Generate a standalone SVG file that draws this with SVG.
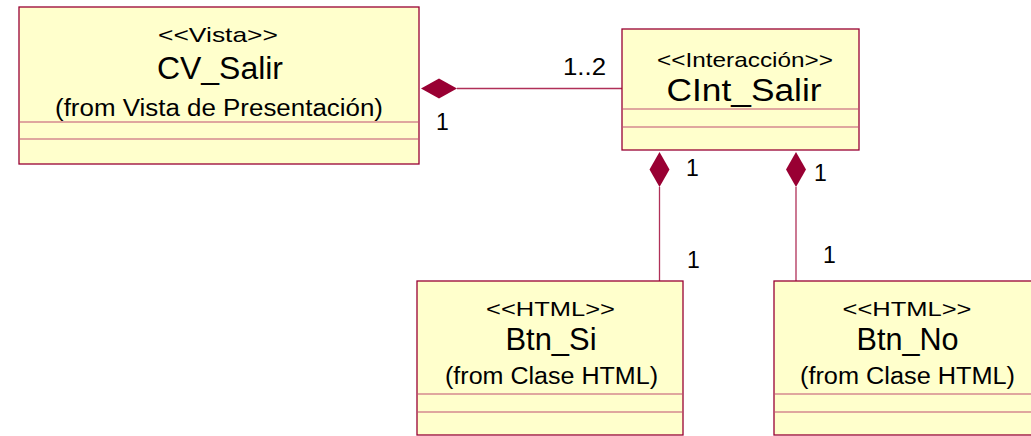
<svg xmlns="http://www.w3.org/2000/svg" width="1031" height="436" viewBox="0 0 1031 436">
<style>
.box{fill:#ffffcc;stroke:#990033;stroke-width:1.3}
.sep{stroke:#c05070;stroke-width:1.2}
.conn{stroke:#b03058;stroke-width:1.3;fill:none}
.dia{fill:#990033;stroke:none}
text{font-family:"Liberation Sans",Arial,sans-serif;fill:#000;text-anchor:middle}
.st{font-size:21px}
.nm{font-size:31px}
.fr{font-size:23.5px}
.lb{font-size:23px;text-anchor:start}
</style>
<rect width="1031" height="436" fill="#ffffff"/>
<g id="connectors">
<line class="conn" x1="457" y1="88.5" x2="622" y2="88.5"/>
<polygon class="dia" points="421,88.5 439,78.5 457,88.5 439,98.5"/>
<line class="conn" x1="659.5" y1="187" x2="659.5" y2="281"/>
<polygon class="dia" points="659.5,152 669.5,169.5 659.5,187 649.5,169.5"/>
<line class="conn" x1="796" y1="187" x2="796" y2="281"/>
<polygon class="dia" points="796,152 806,169.5 796,187 786,169.5"/>
<text class="lb" x="563" y="75" textLength="43" lengthAdjust="spacingAndGlyphs">1..2</text>
<text class="lb" x="436" y="130">1</text>
<text class="lb" x="686" y="176">1</text>
<text class="lb" x="687" y="268">1</text>
<text class="lb" x="814" y="181">1</text>
<text class="lb" x="823" y="263">1</text>
</g>
<g id="CV_Salir">
<rect class="box" x="19" y="7" width="400" height="157"/>
<line class="sep" x1="19" y1="122" x2="419" y2="122"/>
<line class="sep" x1="19" y1="139" x2="419" y2="139"/>
<text class="st" x="218" y="41.5" textLength="120" lengthAdjust="spacingAndGlyphs">&lt;&lt;Vista&gt;&gt;</text>
<text class="nm" x="220" y="79" textLength="126" lengthAdjust="spacingAndGlyphs">CV_Salir</text>
<text class="fr" x="219" y="116" textLength="328" lengthAdjust="spacingAndGlyphs">(from Vista de Presentación)</text>
</g>
<g id="CInt_Salir">
<rect class="box" x="622" y="29" width="237" height="121"/>
<line class="sep" x1="622" y1="109" x2="859" y2="109"/>
<line class="sep" x1="622" y1="127" x2="859" y2="127"/>
<text class="st" x="745" y="66.5" textLength="176" lengthAdjust="spacingAndGlyphs">&lt;&lt;Interacción&gt;&gt;</text>
<text class="nm" x="744" y="100.5" textLength="155" lengthAdjust="spacingAndGlyphs">CInt_Salir</text>
</g>
<g id="Btn_Si">
<rect class="box" x="417" y="281" width="266" height="154"/>
<line class="sep" x1="417" y1="394" x2="683" y2="394"/>
<line class="sep" x1="417" y1="412" x2="683" y2="412"/>
<text class="st" x="550.5" y="315.5" textLength="129" lengthAdjust="spacingAndGlyphs">&lt;&lt;HTML&gt;&gt;</text>
<text class="nm" x="551" y="350" textLength="91" lengthAdjust="spacingAndGlyphs">Btn_Si</text>
<text class="fr" x="551.5" y="383.5" textLength="213" lengthAdjust="spacingAndGlyphs">(from Clase HTML)</text>
</g>
<g id="Btn_No">
<rect class="box" x="774" y="281" width="266" height="154"/>
<line class="sep" x1="774" y1="394" x2="1040" y2="394"/>
<line class="sep" x1="774" y1="412" x2="1040" y2="412"/>
<text class="st" x="907" y="315.5" textLength="129" lengthAdjust="spacingAndGlyphs">&lt;&lt;HTML&gt;&gt;</text>
<text class="nm" x="907.5" y="350" textLength="102" lengthAdjust="spacingAndGlyphs">Btn_No</text>
<text class="fr" x="907.5" y="383.5" textLength="215" lengthAdjust="spacingAndGlyphs">(from Clase HTML)</text>
</g>
</svg>
